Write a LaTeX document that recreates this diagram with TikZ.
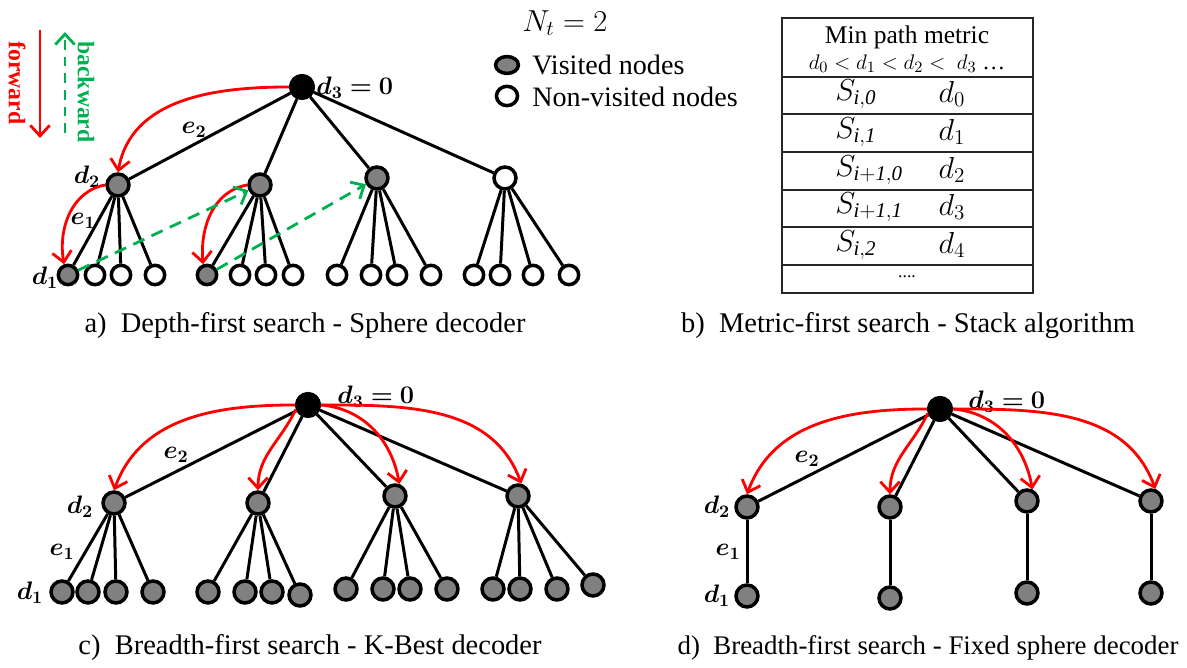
\documentclass[tikz,border=0pt]{standalone}
\usepackage{bm}
\usepackage{amsmath,amssymb}
\usepackage{fontspec}
\setmainfont{Liberation Serif}
\usetikzlibrary{arrows.meta,shapes.geometric}
\definecolor{fwdred}{RGB}{255,0,0}
\definecolor{bwdgreen}{RGB}{0,176,80}
\definecolor{visgray}{RGB}{128,128,128}

\begin{document}
\begin{tikzpicture}[x=0.02cm, y=0.02cm,
  vis/.style = {draw, circle, line width=2pt, fill=visgray, minimum size=12.5pt, inner sep=0pt},
  nonvis/.style = {draw, circle, line width=2pt, fill=white, minimum size=12.5pt, inner sep=0pt},
  leaf/.style = {minimum size=11pt},
  rootnode/.style = {draw, circle, fill=black, minimum size=14.5pt, inner sep=0pt},
  link/.style = {line width=1.7pt},
  fwd/.style = {draw=fwdred, line width=1.6pt, -{Straight Barb[length=6pt,width=11pt]}},
  bwd/.style = {draw=bwdgreen, line width=1.6pt, dash pattern=on 7pt off 4.5pt, -{Straight Barb[length=6pt,width=11pt]}},
  lbl/.style = {font=\fontsize{14}{16}\selectfont, inner sep=0pt},
  captxt/.style = {font=\fontsize{16.2}{19}\selectfont, inner sep=0pt},
  tabtxt/.style = {font=\fontsize{17}{19}\selectfont, inner sep=0pt},
  tabline/.style = {draw=black!85, line width=1pt}]
\useasboundingbox (0,0) rectangle (1187,668);

% a) depth-first
\node[rootnode] (aroot) at (302,581) {};
\node[vis] (a1) at (118,483) {};
\node[vis] (a2) at (260,483) {};
\node[vis] (a3) at (377,490) {};
\node[nonvis] (a4) at (505,490) {};
\node[vis,leaf] (a11) at (68,393) {}; \node[nonvis,leaf] (a12) at (95,393) {};
\node[nonvis,leaf] (a13) at (121,393) {}; \node[nonvis,leaf] (a14) at (155,393) {};
\node[vis,leaf] (a21) at (207,393) {}; \node[nonvis,leaf] (a22) at (240,393) {};
\node[nonvis,leaf] (a23) at (266,393) {}; \node[nonvis,leaf] (a24) at (293,393) {};
\node[nonvis,leaf] (a31) at (337,393) {}; \node[nonvis,leaf] (a32) at (371,393) {};
\node[nonvis,leaf] (a33) at (397,393) {}; \node[nonvis,leaf] (a34) at (431,393) {};
\node[nonvis,leaf] (a41) at (474,393) {}; \node[nonvis,leaf] (a42) at (500,393) {};
\node[nonvis,leaf] (a43) at (533,393) {}; \node[nonvis,leaf] (a44) at (569,393) {};
\draw[link] (aroot) -- (a1); \draw[link] (aroot) -- (a2);
\draw[link] (aroot) -- (a3); \draw[link] (aroot) -- (a4);
\draw[link] (a1) -- (a11); \draw[link] (a1) -- (a12); \draw[link] (a1) -- (a13); \draw[link] (a1) -- (a14);
\draw[link] (a2) -- (a21); \draw[link] (a2) -- (a22); \draw[link] (a2) -- (a23); \draw[link] (a2) -- (a24);
\draw[link] (a3) -- (a31); \draw[link] (a3) -- (a32); \draw[link] (a3) -- (a33); \draw[link] (a3) -- (a34);
\draw[link] (a4) -- (a41); \draw[link] (a4) -- (a42); \draw[link] (a4) -- (a43); \draw[link] (a4) -- (a44);
\node[lbl, anchor=west] (ad3) at (316,580) {$\bm{d_3 = 0}$};
\node[lbl] (ad2) at (87,491) {$\bm{d_2}$};
\node[lbl] (ad1) at (45,390) {$\bm{d_1}$};
\node[lbl] (ae2) at (194,538) {$\bm{e_2}$};
\node[lbl] (ae1) at (83,447) {$\bm{e_1}$};
\draw[fwd] (aroot.west) to[out=180, in=80] (a1.north);
\draw[fwd] (a1.west) to[out=190, in=100] (a11.110);
\draw[fwd] (a2.west) to[out=190, in=95] (a21.110);
\draw[bwd] (a11) -- (a2);
\draw[bwd] (a21) -- (a3);

% forward / backward key
\coordinate (f1) at (40,638); \coordinate (f2) at (40,530);
\coordinate (b1) at (65,535); \coordinate (b2) at (65,636);
\draw[fwd] (f1) -- (f2);
\draw[bwd, dash pattern=on 5.5pt off 4pt] (b1) -- (b2);
\node[font=\bfseries\fontsize{13.5}{15}\selectfont, text=fwdred, rotate=-90] (fwdtxt) at (17,585) {forward};
\node[font=\bfseries\fontsize{13.5}{15}\selectfont, text=bwdgreen, rotate=-90] (bwdtxt) at (86,576) {backward};

% legend
\node[font=\fontsize{17}{19}\selectfont] (nt) at (565,645) {$N_t = 2$};
\node[draw, ellipse, line width=2pt, fill=visgray, minimum width=13pt, minimum height=9.6pt, inner sep=0pt] (legvis) at (507,603) {};
\node[draw, ellipse, line width=2pt, fill=white, minimum width=12pt, minimum height=11pt, inner sep=0pt] (legnon) at (507,572) {};
\node[anchor=west, inner sep=0pt, font=\fontsize{16}{18}\selectfont] (legvistxt) at (532,603) {Visited nodes};
\node[anchor=west, inner sep=0pt, font=\fontsize{16}{18}\selectfont] (legnontxt) at (532,571) {Non-visited nodes};

% b) stack table
\draw[tabline] (782,375) rectangle (1033,650);
\draw[tabline] (782,591) -- (1033,591);
\draw[tabline] (782,554) -- (1033,554);
\draw[tabline] (782,516) -- (1033,516);
\draw[tabline] (782,478) -- (1033,478);
\draw[tabline] (782,441) -- (1033,441);
\draw[tabline] (782,403) -- (1033,403);
\node[inner sep=0pt, font=\fontsize{14.5}{16}\selectfont] (hd1) at (907,631) {Min path metric};
\node[inner sep=0pt, font=\fontsize{13}{15}\selectfont] (hd2) at (907,604) {$d_0 < d_1 < d_2 <\ d_3$ \ldots};
\node[tabtxt, anchor=west] (s1) at (835,574) {$S_{\mathit{i,0}}$};
\node[tabtxt] (m1) at (952,574) {$d_0$};
\node[tabtxt, anchor=west] (s2) at (835,536) {$S_{\mathit{i,1}}$};
\node[tabtxt] (m2) at (952,536) {$d_1$};
\node[tabtxt, anchor=west] (s3) at (835,498) {$S_{\mathit{i+1,0}}$};
\node[tabtxt] (m3) at (952,498) {$d_2$};
\node[tabtxt, anchor=west] (s4) at (835,461) {$S_{\mathit{i+1,1}}$};
\node[tabtxt] (m4) at (952,461) {$d_3$};
\node[tabtxt, anchor=west] (s5) at (835,423) {$S_{\mathit{i,2}}$};
\node[tabtxt] (m5) at (952,423) {$d_4$};
\node[inner sep=0pt, font=\fontsize{10}{12}\selectfont] (dots) at (907,391) {....};

% c) breadth-first, K-best
\node[rootnode] (croot) at (308,263) {};
\node[vis] (c1) at (114,165) {};
\node[vis] (c2) at (258,165) {};
\node[vis] (c3) at (395,172) {};
\node[vis] (c4) at (518,172) {};
\node[vis] (c11) at (62,76) {}; \node[vis] (c12) at (88,76) {};
\node[vis] (c13) at (116,76) {}; \node[vis] (c14) at (153,76) {};
\node[vis] (c21) at (208,76) {}; \node[vis] (c22) at (245,76) {};
\node[vis] (c23) at (272,76) {}; \node[vis] (c24) at (300,73) {};
\node[vis] (c31) at (346,79) {}; \node[vis] (c32) at (383,79) {};
\node[vis] (c33) at (410,79) {}; \node[vis] (c34) at (447,79) {};
\node[vis] (c41) at (493,79) {}; \node[vis] (c42) at (520,79) {};
\node[vis] (c43) at (557,79) {}; \node[vis] (c44) at (593,83) {};
\draw[link] (croot) -- (c1); \draw[link] (croot) -- (c2);
\draw[link] (croot) -- (c3); \draw[link] (croot) -- (c4);
\draw[link] (c1) -- (c11); \draw[link] (c1) -- (c12); \draw[link] (c1) -- (c13); \draw[link] (c1) -- (c14);
\draw[link] (c2) -- (c21); \draw[link] (c2) -- (c22); \draw[link] (c2) -- (c23); \draw[link] (c2) -- (c24);
\draw[link] (c3) -- (c31); \draw[link] (c3) -- (c32); \draw[link] (c3) -- (c33); \draw[link] (c3) -- (c34);
\draw[link] (c4) -- (c41); \draw[link] (c4) -- (c42); \draw[link] (c4) -- (c43); \draw[link] (c4) -- (c44);
\node[lbl, anchor=west] (cd3) at (337,271) {$\bm{d_3 = 0}$};
\node[lbl] (cd2) at (80,161) {$\bm{d_2}$};
\node[lbl] (ce2) at (176,213) {$\bm{e_2}$};
\node[lbl] (ce1) at (62,116) {$\bm{e_1}$};
\node[lbl] (cd1) at (30,75) {$\bm{d_1}$};
\draw[fwd] (croot.west) to[out=180, in=70] (c1.north);
\draw[fwd] (croot.200) to[out=245, in=90] (c2.north);
\draw[fwd] (croot.east) to[out=-5, in=100] (c3.70);
\draw[fwd] (croot.east) to[out=0, in=110] (c4.75);

% d) breadth-first, fixed sphere
\node[rootnode] (droot) at (940,259) {};
\node[vis] (d1) at (747,161) {};
\node[vis] (d2) at (890,161) {};
\node[vis] (d3) at (1027,167) {};
\node[vis] (d4) at (1151,167) {};
\node[vis] (d11) at (747,72) {};
\node[vis] (d21) at (890,70) {};
\node[vis] (d31) at (1027,75) {};
\node[vis] (d41) at (1151,75) {};
\draw[link] (droot) -- (d1); \draw[link] (droot) -- (d2);
\draw[link] (droot) -- (d3); \draw[link] (droot) -- (d4);
\draw[link] (d1) -- (d11); \draw[link] (d2) -- (d21);
\draw[link] (d3) -- (d31); \draw[link] (d4) -- (d41);
\node[lbl, anchor=west] (dd3) at (968,266) {$\bm{d_3 = 0}$};
\node[lbl] (dd2) at (717,161) {$\bm{d_2}$};
\node[lbl] (de2) at (807,209) {$\bm{e_2}$};
\node[lbl] (de1) at (728,116) {$\bm{e_1}$};
\node[lbl] (dd1) at (717,72) {$\bm{d_1}$};
\draw[fwd] (droot.west) to[out=180, in=70] (d1.north);
\draw[fwd] (droot.200) to[out=245, in=90] (d2.north);
\draw[fwd] (droot.east) to[out=-5, in=100] (d3.65);
\draw[fwd] (droot.east) to[out=0, in=110] (d4.70);

% captions
\node[captxt] (capa) at (305,342) {a)~~Depth-first search - Sphere decoder};
\node[captxt] (capb) at (908,342) {b)~~Metric-first search - Stack algorithm};
\node[captxt] (capc) at (310,20) {c)~~Breadth-first search - K-Best decoder};
\node[captxt, font=\fontsize{15.3}{18}\selectfont] (capd) at (928,20) {d)~~Breadth-first search - Fixed sphere decoder};
\end{tikzpicture}
\end{document}
